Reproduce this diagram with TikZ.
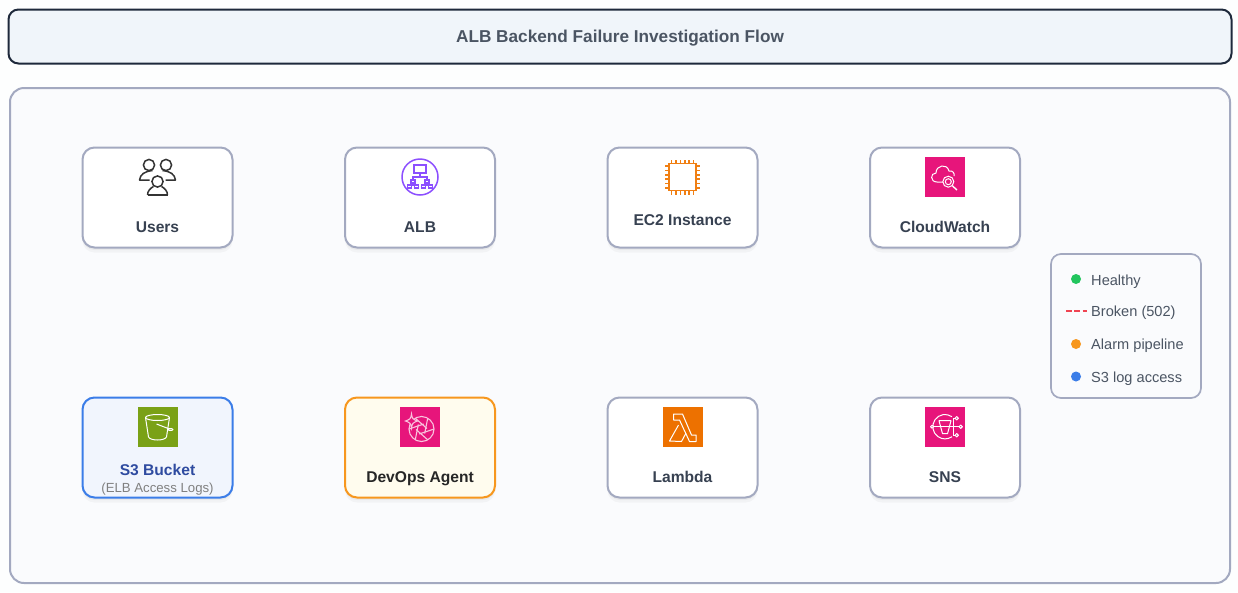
\documentclass[tikz,border=0pt]{standalone}
\usepackage{fontspec}
\setmainfont{Liberation Sans}
\usetikzlibrary{shadows}
\definecolor{pagebg}{HTML}{FDFEFE}
\definecolor{panelbg}{HTML}{FAFBFD}
\definecolor{panelline}{HTML}{A3A9C0}
\definecolor{titlebg}{HTML}{F0F5FA}
\definecolor{titleline}{HTML}{1E293B}
\definecolor{titletext}{HTML}{4B5563}
\definecolor{labeltext}{HTML}{374151}
\definecolor{awspink}{HTML}{E7157B}
\definecolor{awsorange}{HTML}{ED7100}
\definecolor{chiporange}{HTML}{F07F13}
\definecolor{awsgreen}{HTML}{7AA116}
\definecolor{awspurple}{HTML}{8C4FFF}
\definecolor{s3blue}{HTML}{3B7DE8}
\definecolor{s3fill}{HTML}{F1F5FD}
\definecolor{s3text}{HTML}{2F4BA0}
\definecolor{agentline}{HTML}{F7971E}
\definecolor{agentfill}{HTML}{FFFCEE}
\definecolor{okgreen}{HTML}{22C55E}
\definecolor{brokenred}{HTML}{EF4452}
\begin{document}
\begin{tikzpicture}[x=1pt,y=-1pt,
    card/.style={draw=panelline,fill=white,rounded corners=12pt,line width=2pt,minimum width=150pt,minimum height=100pt,inner sep=0pt,drop shadow={shadow xshift=0pt,shadow yshift=-5pt,opacity=0.03,fill=black},drop shadow={shadow xshift=0pt,shadow yshift=-2.5pt,opacity=0.04,fill=black}},
    cardtext/.style={font=\fontsize{15.6}{18}\selectfont\bfseries,text=labeltext,inner sep=0pt,anchor=base},
    legendtext/.style={font=\fontsize{14.6}{17}\selectfont,text=titletext,inner sep=0pt,anchor=base west},
    dot/.style={circle,minimum size=10pt,inner sep=0pt},
    iconbox/.style={minimum size=40pt,inner sep=0pt},
    iconline/.style={draw=white,line width=1pt,line join=round}]
  \useasboundingbox (0,0) rectangle (1238,592);
  \fill[pagebg] (0,0) rectangle (1238,592);
  % header and panel
  \node[draw=titleline,fill=titlebg,rounded corners=10pt,line width=2pt,minimum width=1223pt,minimum height=54pt,inner sep=0pt,text height=12pt,text depth=0pt,font=\fontsize{17.2}{20}\selectfont\bfseries,text=titletext] (title) at (620,36.5) {ALB Backend Failure Investigation Flow};
  \node[draw=panelline,fill=panelbg,rounded corners=14pt,line width=2pt,minimum width=1220pt,minimum height=495pt,inner sep=0pt] (panel) at (620,335.5) {};
  % cards
  \coordinate (c1) at (157.5,197.5);
  \coordinate (c2) at (420,197.5);
  \coordinate (c3) at (682.5,197.5);
  \coordinate (c4) at (945,197.5);
  \coordinate (c5) at (157.5,447.5);
  \coordinate (c6) at (420,447.5);
  \coordinate (c7) at (682.5,447.5);
  \coordinate (c8) at (945,447.5);
  \node[card] (users) at (c1) {};
  \node[card] (alb) at (c2) {};
  \node[card] (ectwo) at (c3) {};
  \node[card] (cloudwatch) at (c4) {};
  \node[card,draw=s3blue,fill=s3fill] (sthree) at (c5) {};
  \node[card,draw=agentline,fill=agentfill] (agent) at (c6) {};
  \node[card] (lambda) at (c7) {};
  \node[card] (sns) at (c8) {};
  \node[cardtext] (userstext) at (157.5,232.6) {Users};
  \node[cardtext] (albtext) at (420,232.6) {ALB};
  \node[cardtext] (ectwotext) at (682.5,225.6) {EC2 Instance};
  \node[cardtext] (cloudwatchtext) at (945,232.6) {CloudWatch};
  \node[cardtext,text=s3text] (sthreetext) at (157.5,475.5) {S3 Bucket};
  \node[inner sep=0pt,anchor=base,font=\fontsize{13.2}{15}\selectfont,text=gray] (sthreesub) at (157.5,492.5) {(ELB Access Logs)};
  \node[cardtext,text=black!85] (agenttext) at (420,482.6) {DevOps Agent};
  \node[cardtext] (lambdatext) at (682.5,482.6) {Lambda};
  \node[cardtext] (snstext) at (945,482.6) {SNS};
  % users icon
  \begin{scope}[shift={(157.5,177)},draw=black!80,line width=1.5pt,line join=round]
    \draw (-8.5,-12) circle (5.6);
    \draw (8.5,-12) circle (5.6);
    \draw (0,4.5) circle (5.6);
    \draw (-5,-6.5) .. controls (-13,-5.5) and (-17,-3) .. (-18,3) -- (-8,3);
    \draw (5,-6.5) .. controls (13,-5.5) and (17,-3) .. (18,3) -- (8,3);
    \draw (-10,18) .. controls (-10,14) and (-7,11) .. (-4,9.5);
    \draw (10,18) .. controls (10,14) and (7,11) .. (4,9.5);
    \draw (-10,18) -- (10,18);
  \end{scope}
  % alb icon
  \begin{scope}[shift={(420,177)},draw=awspurple,line width=1.1pt]
    \draw[line width=1.5pt] (0,0) circle (18);
    \draw (-6,-12) rectangle (6,-4);
    \draw (0,-4) -- (0,0);
    \draw (-7,3) |- (7,0) -- (7,3);
    \foreach \bx in {-7,7} {
      \draw (\bx-2,3) rectangle (\bx+2,6);
      \draw (\bx-3.5,8) -- (\bx+3.5,8);
      \draw (\bx,6) -- (\bx,8);
      \draw (\bx-5.5,8) rectangle (\bx-1.5,11);
      \draw (\bx+1.5,8) rectangle (\bx+5.5,11);
    }
  \end{scope}
  % ec2 icon
  \begin{scope}[shift={(682.5,177)},draw=chiporange,line width=1.6pt]
    \draw (-13.5,-13.5) rectangle (13.5,13.5);
    \foreach \p in {-11,-6.6,-2.2,2.2,6.6,11} {
      \draw (\p,-13.5) -- (\p,-17.5);
      \draw (\p,13.5) -- (\p,17.5);
      \draw (-13.5,\p) -- (-17.5,\p);
      \draw (13.5,\p) -- (17.5,\p);
    }
  \end{scope}
  % cloudwatch icon
  \node[iconbox,fill=awspink] (cwicon) at (945,177) {};
  \begin{scope}[shift={(945,177)}]
    \draw[iconline] (-2,5) -- (-8,5) .. controls (-15,5) and (-15,-4) .. (-9,-4) .. controls (-9,-12) and (2,-14) .. (4,-6) .. controls (8,-7) and (10,-3) .. (9,-1);
    \draw[iconline] (3.3,4.7) circle (5.5);
    \draw[iconline] (3.3,4.7) circle (3);
    \draw[iconline,line width=1.4pt] (7.5,9) -- (12,13);
  \end{scope}
  % s3 icon
  \node[iconbox,fill=awsgreen] (sthreeicon) at (157.5,427) {};
  \begin{scope}[shift={(157.5,427)}]
    \draw[iconline] (0,-9.5) ellipse (12 and 3);
    \draw[iconline] (-12,-9.5) -- (-9,10) .. controls (-7,14) and (7,14) .. (9,10) -- (12,-9.5);
    \draw[iconline] (-1,-3) -- (12,2);
    \draw[iconline] (13,2.5) ellipse (2.5 and 1);
  \end{scope}
  % devops agent icon
  \node[iconbox,fill=awspink] (agenticon) at (420,427) {};
  \begin{scope}[shift={(421.5,429)},line width=1.1pt,draw=white!75!awspink]
    \draw (0,0) circle (12.5);
    \foreach \a in {0,60,...,300} {
      \draw (\a:12.5) -- (\a+115:5.5);
    }
    \filldraw[fill=awspink] (-10,-15) .. controls (-9.5,-10.5) and (-8.5,-9.5) .. (-4,-8) .. controls (-8.5,-6.5) and (-9.5,-5.5) .. (-10,-1) .. controls (-10.5,-5.5) and (-11.5,-6.5) .. (-16,-8) .. controls (-11.5,-9.5) and (-10.5,-10.5) .. (-10,-15) -- cycle;
  \end{scope}
  % lambda icon
  \node[iconbox,fill=awsorange] (lambdaicon) at (682.5,427) {};
  \begin{scope}[shift={(682.5,427)}]
    \draw[iconline] (-9,-13) -- (0,-13) -- (9,8) -- (13.5,8) -- (13.5,14.5) -- (7,14.5) -- (-3,-7) -- (-9,-7) -- cycle;
    \draw[iconline] (-4,-2) -- (-13,14) -- (-1,14.5) -- (3.5,6);
  \end{scope}
  % sns icon
  \node[iconbox,fill=awspink] (snsicon) at (945,427) {};
  \begin{scope}[shift={(945,426.7)}]
    \draw[iconline] (7,-10) arc[start angle=-55,end angle=-305,radius=12.2];
    \draw[iconline] (-13,0) -- (14,0);
    \draw[iconline] (-6,-6) -- (6,-6) -- (2.5,7) -- (-2.5,7) -- cycle;
    \draw[iconline] (8,-8.5) -- (8,8.5);
    \draw[iconline] (8,-8.5) -- (10,-8.5);
    \draw[iconline] (8,8.5) -- (10,8.5);
    \draw[iconline] (11.7,-8.5) circle (1.7);
    \draw[iconline] (11.7,8.5) circle (1.7);
    \draw[iconline] (15.7,0) circle (1.7);
    \draw[iconline,fill=awspink] (-13,0) circle (1.5);
  \end{scope}
  % legend
  \node[draw=panelline,fill=panelbg,rounded corners=10pt,line width=1.7pt,minimum width=150pt,minimum height=144pt,inner sep=0pt] (legend) at (1126,326) {};
  \node[dot,fill=okgreen] (healthydot) at (1076,279) {};
  \coordinate (brokenstart) at (1066,311);
  \coordinate (brokenend) at (1086.5,311);
  \node[dot,fill=agentline] (alarmdot) at (1076,344) {};
  \node[dot,fill=s3blue] (logdot) at (1076,376.5) {};
  \draw[brokenred,line width=2.6pt,dash pattern=on 5.5pt off 2.8pt] (brokenstart) -- (brokenend);
  \node[legendtext] (healthytext) at (1091,285.5) {Healthy};
  \node[legendtext] (brokentext) at (1091,316.5) {Broken (502)};
  \node[legendtext] (alarmtext) at (1091,349) {Alarm pipeline};
  \node[legendtext] (logtext) at (1091,382) {S3 log access};
\end{tikzpicture}
\end{document}
